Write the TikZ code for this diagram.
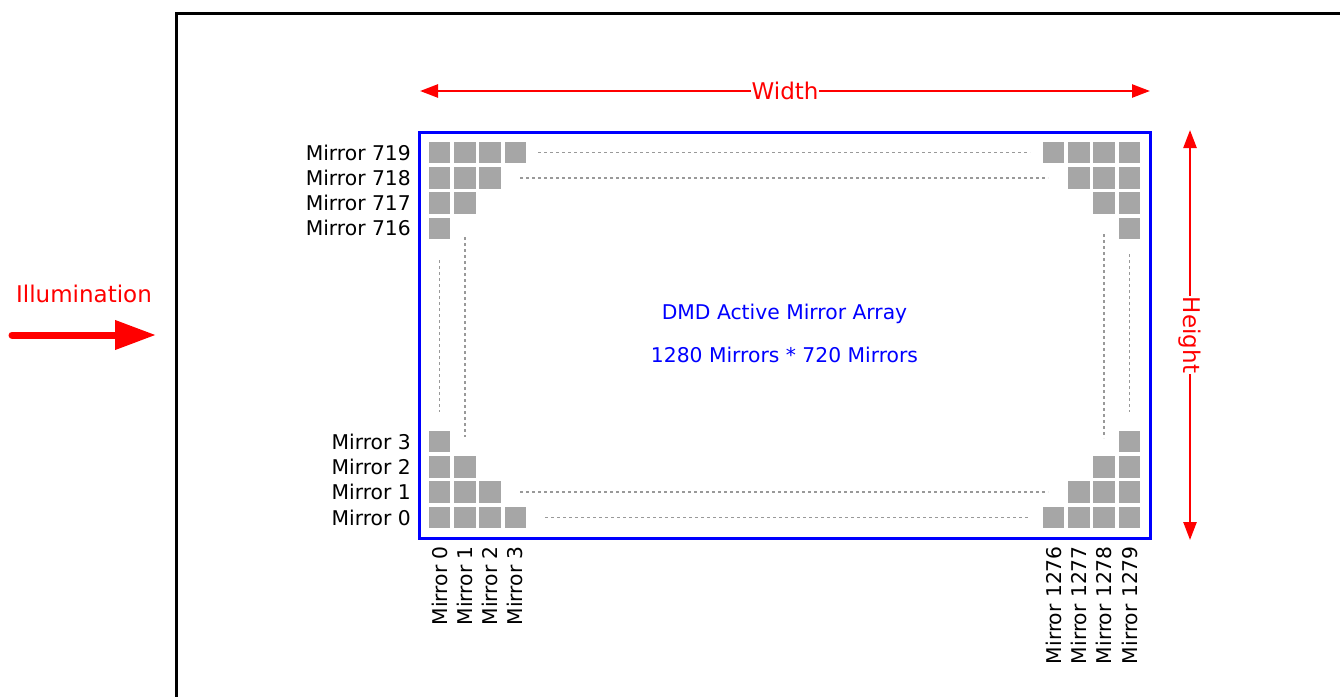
\documentclass[tikz,border=0pt]{standalone}
\usepackage{fontspec}
\setmainfont{DejaVu Sans}
\usetikzlibrary{arrows.meta}
\definecolor{sqgray}{HTML}{A6A6A6}
\definecolor{dotgray}{HTML}{999999}
\tikzset{
  mirror/.style={fill=sqgray, draw=none, minimum size=21.5pt, inner sep=0pt},
  lbl/.style={font=\fontsize{20.3}{24}\selectfont, inner sep=0pt, text=black},
  redlbl/.style={font=\fontsize{23}{27}\selectfont, text=red, inner sep=0pt},
  bluelbl/.style={font=\fontsize{20.3}{24}\selectfont, text=blue, inner sep=0pt},
  dotline/.style={draw=dotgray, line width=1.8pt, dash pattern=on 3pt off 3pt},
  dimarrow/.style={draw=red, line width=2.5pt, {Triangle[length=18pt,width=13pt]}-{Triangle[length=18pt,width=13pt]}},
}
\begin{document}
\begin{tikzpicture}[x=1pt,y=-1pt]
\useasboundingbox (0,0) rectangle (1340,696);
% outer frame
\draw[line width=3pt] (176,700) -- (176,13) -- (1345,13);
% blue array border
\node[draw=blue, line width=3pt, minimum width=731pt, minimum height=406pt, inner sep=0pt] (array) at (784.5,335) {};
% squares
\foreach \r in {0,...,3}{
  \pgfmathtruncatemacro{\n}{3-\r}
  \foreach \k in {0,...,\n}{
    \node[mirror] (tl-\r-\k) at ({439.5+25.3*\k},{152.5+25.3*\r}) {};
    \node[mirror] (tr-\r-\k) at ({1129.5-25.3*\k},{152.5+25.3*\r}) {};
    \node[mirror] (bl-\r-\k) at ({439.5+25.3*\k},{517.5-25.3*\r}) {};
    \node[mirror] (br-\r-\k) at ({1129.5-25.3*\k},{517.5-25.3*\r}) {};
  }
}
% row labels
\node[lbl, anchor=east] (r719) at (411,152.5) {Mirror 719};
\node[lbl, anchor=east] (r718) at (411,177.8) {Mirror 718};
\node[lbl, anchor=east] (r717) at (411,203.1) {Mirror 717};
\node[lbl, anchor=east] (r716) at (411,228.4) {Mirror 716};
\node[lbl, anchor=east] (r3) at (411,441.6) {Mirror 3};
\node[lbl, anchor=east] (r2) at (411,466.9) {Mirror 2};
\node[lbl, anchor=east] (r1) at (411,492.2) {Mirror 1};
\node[lbl, anchor=east] (r0) at (411,517.5) {Mirror 0};
% column labels
\foreach \k/\t in {0/0,1/1,2/2,3/3}{
  \node[lbl, rotate=90, anchor=east] (c\t) at ({439.5+25.3*\k},546) {Mirror \t};
}
\foreach \k/\t in {0/1279,1/1278,2/1277,3/1276}{
  \node[lbl, rotate=90, anchor=east] (c\t) at ({1129.5-25.3*\k},546) {Mirror \t};
}
% dotted lines
\coordinate (h0a) at (538,152.5);  \coordinate (h0b) at (1030,152.5);
\coordinate (h1a) at (520,177.8);  \coordinate (h1b) at (1048,177.8);
\coordinate (h2a) at (520,492.2);  \coordinate (h2b) at (1048,492.2);
\coordinate (h3a) at (545,517.5);  \coordinate (h3b) at (1030,517.5);
\coordinate (v0a) at (439.5,260);  \coordinate (v0b) at (439.5,412);
\coordinate (v1a) at (464.8,237);  \coordinate (v1b) at (464.8,437);
\coordinate (v2a) at (1104.2,234); \coordinate (v2b) at (1104.2,438);
\coordinate (v3a) at (1129.5,254); \coordinate (v3b) at (1129.5,412);
\foreach \p in {h0,h1,h2,h3,v0,v1,v2,v3}{
  \draw[dotline] (\p a) -- (\p b);
}
% center text
\node[bluelbl] (t1) at (784.5,314) {DMD Active Mirror Array};
\node[bluelbl] (t2) at (784.5,355) {1280 Mirrors * 720 Mirrors};
% width arrow
\coordinate (wl) at (420,91);
\coordinate (wr) at (1150,91);
\draw[dimarrow] (wl) -- (wr);
\node[redlbl, fill=white, inner xsep=1pt, inner ysep=2pt] (wlab) at (785,91) {Width};
% height arrow
\coordinate (ht) at (1190,130);
\coordinate (hb) at (1190,540);
\draw[dimarrow] (ht) -- (hb);
\node[redlbl, fill=white, rotate=-90, inner xsep=1pt, inner ysep=2pt] (hlab) at (1190,335) {Height};
% illumination
\node[redlbl] (illum) at (84,294) {Illumination};
\coordinate (ia) at (12,335);
\coordinate (ib) at (156,335);
\draw[red, line width=7pt, line cap=round, -{Triangle[length=41pt,width=28pt]}] (ia) -- (ib);
\end{tikzpicture}
\end{document}
